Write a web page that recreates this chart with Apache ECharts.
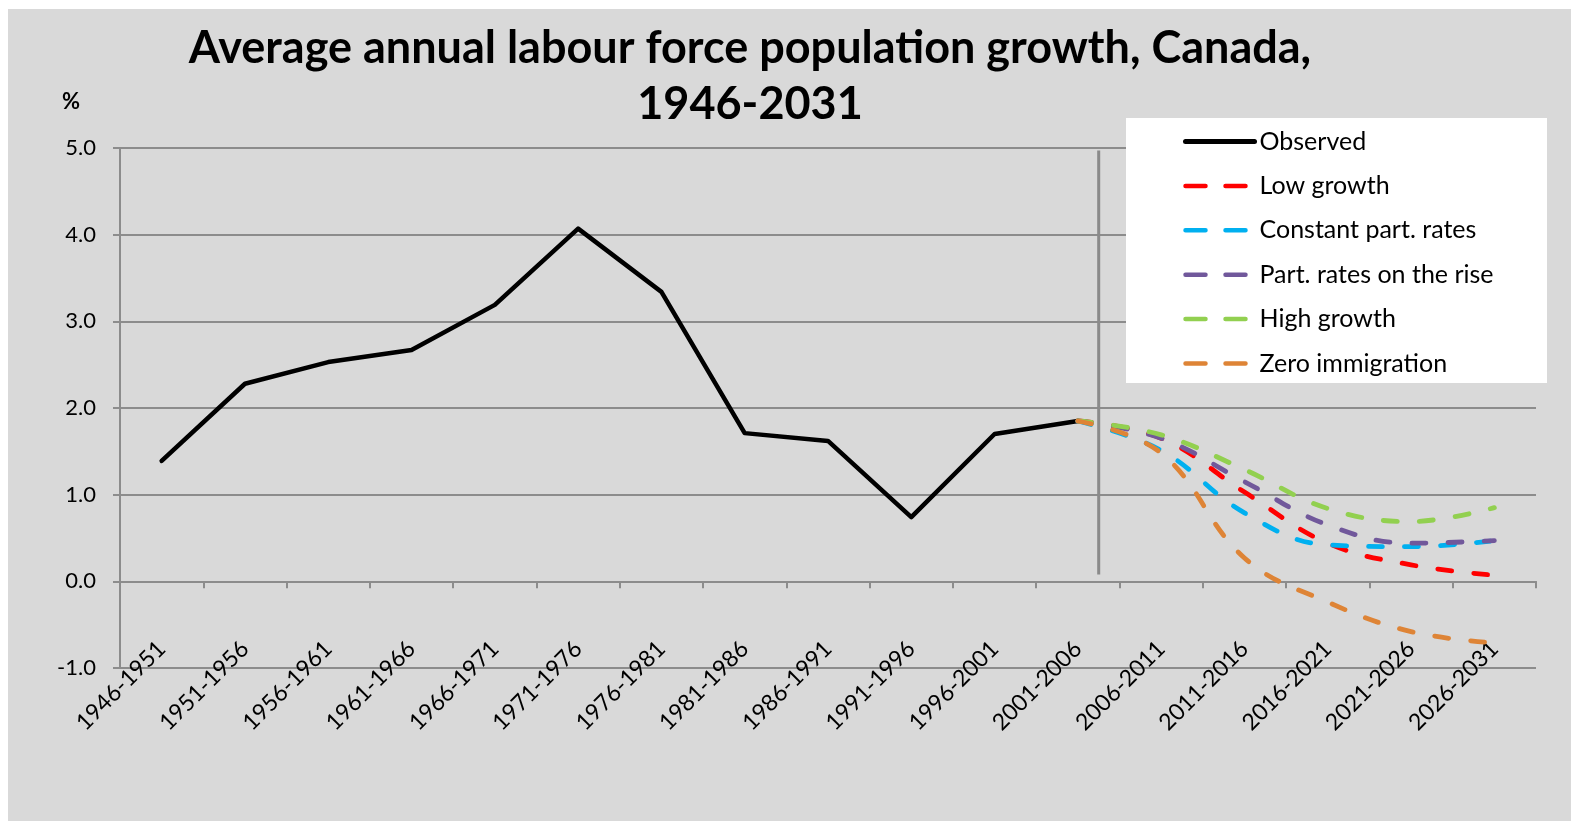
<!DOCTYPE html>
<html>
<head>
<meta charset="utf-8">
<script src="https://cdn.jsdelivr.net/npm/echarts@6/dist/echarts.min.js"></script>
<style>
  html, body { margin: 0; padding: 0; background: #ffffff; }
  #bg { position: absolute; left: 8px; top: 9px; width: 1563px; height: 812px; background: #d9d9d9; }
  #chart { position: absolute; left: 0; top: 0; width: 1571px; height: 821px; }
</style>
</head>
<body>
<div id="bg"></div>
<div id="chart"></div>
<script>
const categories = ['1946-1951','1951-1956','1956-1961','1961-1966','1966-1971','1971-1976','1976-1981','1981-1986','1986-1991','1991-1996','1996-2001','2001-2006','2006-2011','2011-2016','2016-2021','2021-2026','2026-2031'];
const observed = [1.39, 2.28, 2.53, 2.67, 3.19, 4.07, 3.34, 1.71, 1.62, 0.74, 1.70, 1.85, null, null, null, null, null];
const projPad = [null, null, null, null, null, null, null, null, null, null, null];
const lowGrowth = [1.85, 1.65, 1.03, 0.44, 0.19, 0.07];
const constantRates = [1.85, 1.51, 0.79, 0.42, 0.40, 0.47];
const ratesRise = [1.85, 1.65, 1.15, 0.65, 0.44, 0.47];
const highGrowth = [1.85, 1.69, 1.29, 0.84, 0.69, 0.85];
const zeroImmigration = [1.85, 1.48, 0.27, -0.24, -0.58, -0.71];
const dividerAt = 11.25;           // category-index position of the observed/projection divider
const dividerRange = [4.97, 0.08]; // y extent of the divider
const yTicks = { min: -1, max: 5, interval: 1 };
const seriesNames = ['Observed', 'Low growth', 'Constant part. rates', 'Part. rates on the rise', 'High growth', 'Zero immigration'];

const FONT = 'Lato, "Open Sans", sans-serif';
const GRID = '#8c8c8c';

function proj(name, values, color) {
  return {
    name: name, type: 'line', xAxisIndex: 0,
    data: projPad.concat(values),
    smooth: 0.4, symbol: 'none', connectNulls: false,
    lineStyle: { color: color, width: 4.8, type: [14, 22], cap: 'round', join: 'round' },
    itemStyle: { color: color }
  };
}

const chart = echarts.init(document.getElementById('chart'), null, { renderer: 'canvas' });
chart.setOption({
  backgroundColor: 'transparent',
  animation: false,
  textStyle: { fontFamily: FONT },
  title: {
    text: 'Average annual labour force population growth, Canada,\n1946-2031',
    left: 745, top: 15, textAlign: 'center',
    textStyle: { fontFamily: FONT, fontWeight: 'bold', fontSize: 45, lineHeight: 56, color: '#000' }
  },
  graphic: [
    { type: 'rect', z: 5, shape: { x: 1126, y: 118, width: 421, height: 265 }, style: { fill: '#ffffff' } },
    { type: 'text', z: 5, left: 62, top: 91, style: { text: '%', font: 'bold 22px ' + FONT, fill: '#000' } }
  ],
  legend: {
    z: 10,
    orient: 'vertical', left: 1183, top: 129, padding: 0,
    itemWidth: 69, itemHeight: 26, itemGap: 19.4,
    itemStyle: { opacity: 0 },
    lineStyle: { width: 4.5 },
    textStyle: { fontFamily: FONT, fontSize: 25, color: '#000' },
    data: seriesNames.map((n, i) => i === 0
      ? { name: n, lineStyle: { width: 5 } }
      : { name: n, lineStyle: { width: 4.5, type: [20, 20] } })
  },
  grid: { left: 120, right: 35, top: 148, bottom: 153, containLabel: false },
  xAxis: [
    {
      type: 'category', data: categories, boundaryGap: true,
      axisLine: { show: true, onZero: true, lineStyle: { color: GRID, width: 2 } },
      axisTick: { show: true, length: 7, alignWithLabel: false, lineStyle: { color: GRID, width: 2 } },
      axisLabel: { rotate: 45, margin: -23, interval: 0, fontSize: 23, color: '#000', fontFamily: FONT },
      splitLine: { show: false }
    },
    { type: 'value', min: -0.5, max: 16.5, show: false }
  ],
  yAxis: {
    type: 'value', min: yTicks.min, max: yTicks.max, interval: yTicks.interval,
    axisLine: { show: true, onZero: false, lineStyle: { color: GRID, width: 2 } },
    axisTick: { show: true, length: 7, lineStyle: { color: GRID, width: 2 } },
    axisLabel: { margin: 24, fontSize: 22, color: '#000', fontFamily: FONT, formatter: v => v.toFixed(1) },
    splitLine: { show: true, lineStyle: { color: GRID, width: 2 } }
  },
  series: [
    {
      name: 'divider', type: 'line', xAxisIndex: 1, silent: true, symbol: 'none',
      data: [[dividerAt, dividerRange[0]], [dividerAt, dividerRange[1]]],
      lineStyle: { color: '#8a8a8a', width: 3 }
    },
    {
      name: 'Observed', type: 'line', xAxisIndex: 0, data: observed, symbol: 'none',
      lineStyle: { color: '#000', width: 4.5, join: 'round', cap: 'round' },
      itemStyle: { color: '#000' }
    },
    proj('Low growth', lowGrowth, '#ff0000'),
    proj('Constant part. rates', constantRates, '#00b0f0'),
    proj('Part. rates on the rise', ratesRise, '#71589b'),
    proj('High growth', highGrowth, '#92d050'),
    proj('Zero immigration', zeroImmigration, '#de8436')
  ]
});
</script>
</body>
</html>
